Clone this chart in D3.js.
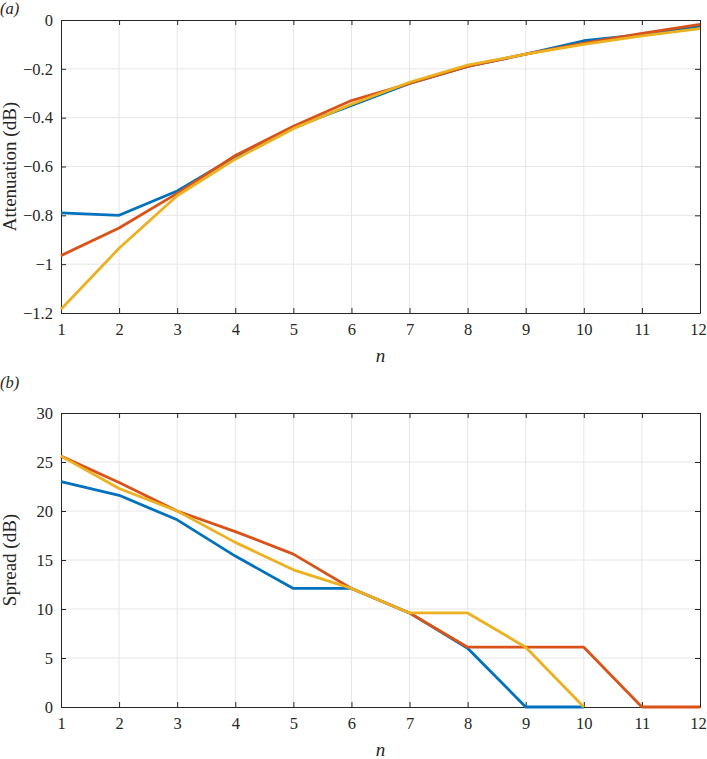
<!DOCTYPE html>
<html>
<head>
<meta charset="utf-8">
<script src="https://cdn.jsdelivr.net/npm/d3@7"></script>
<style>
  body { margin: 0; background: #fff; }
  svg text { font-family: "Liberation Serif", "Times New Roman", serif; fill: #262626; }
</style>
</head>
<body>
<div id="chart"></div>
<script>
// n values shared by both panels
const nValues = [1, 2, 3, 4, 5, 6, 7, 8, 9, 10, 11, 12];

// (a) attenuation in dB
const attenBlue   = [-0.79, -0.80, -0.70, -0.56, -0.44, -0.35, -0.26, -0.19, -0.14, -0.085, -0.06, -0.025];
const attenRed    = [-0.965, -0.852, -0.71, -0.555, -0.435, -0.33, -0.26, -0.19, -0.14, -0.095, -0.055, -0.018];
const attenYellow = [-1.185, -0.935, -0.72, -0.57, -0.445, -0.345, -0.255, -0.185, -0.14, -0.10, -0.065, -0.035];

// (b) spread in dB (null = no value)
const spreadBlue   = [23.0, 21.6, 19.1, 15.4, 12.1, 12.1, 9.6, 6.0, 0, 0, null, null];
const spreadRed    = [25.6, 22.9, 20.0, 17.9, 15.6, 12.1, 9.6, 6.1, 6.1, 6.1, 0, 0];
const spreadYellow = [25.6, 22.3, 20.0, 16.8, 14.0, 12.1, 9.6, 9.6, 6.1, 0, null, null];

const attenTicks = [0, -0.2, -0.4, -0.6, -0.8, -1, -1.2];
const spreadTicks = [0, 5, 10, 15, 20, 25, 30];

const colors = ["#0072BD", "#D95319", "#EDB120"];

const width = 707;
const height = 759;
const marginLeft = 61;
const marginRight = 7;
const tickFont = "16.5px";
const labelFont = "19px";

const svg = d3.select("#chart").append("svg")
    .attr("width", width)
    .attr("height", height)
    .attr("viewBox", [0, 0, width, height]);

function drawPanel(cfg) {
    const x = d3.scaleLinear()
        .domain([1, 12])
        .range([marginLeft, width - marginRight]);

    const y = d3.scaleLinear()
        .domain(cfg.domain)
        .range([cfg.bottom, cfg.top]);

    const g = svg.append("g");

    // Grid lines
    g.append("g")
        .selectAll("line")
        .data(nValues.slice(1, -1))
        .join("line")
        .attr("x1", d => x(d)).attr("x2", d => x(d))
        .attr("y1", cfg.top).attr("y2", cfg.bottom)
        .attr("stroke", "#e6e6e6").attr("stroke-width", 1);
    g.append("g")
        .selectAll("line")
        .data(cfg.ticks.slice(1, -1))
        .join("line")
        .attr("x1", x(1)).attr("x2", x(12))
        .attr("y1", d => y(d)).attr("y2", d => y(d))
        .attr("stroke", "#e6e6e6").attr("stroke-width", 1);

    // Axes with inward ticks (MATLAB style)
    g.append("g")
        .attr("transform", `translate(0,${cfg.bottom})`)
        .call(d3.axisBottom(x).tickValues(nValues).tickSizeInner(-5).tickSizeOuter(0).tickPadding(10))
        .call(a => a.selectAll(".tick:last-of-type text").attr("dx", -2));
    g.append("g")
        .attr("transform", `translate(0,${cfg.top})`)
        .call(d3.axisTop(x).tickValues(nValues).tickSizeInner(-5).tickSizeOuter(0).tickFormat(""));
    g.append("g")
        .attr("transform", `translate(${marginLeft},0)`)
        .call(d3.axisLeft(y).tickValues(cfg.ticks).tickSizeInner(-5).tickSizeOuter(0).tickPadding(8).tickFormat(d3.format("")));
    g.append("g")
        .attr("transform", `translate(${width - marginRight},0)`)
        .call(d3.axisRight(y).tickValues(cfg.ticks).tickSizeInner(-5).tickSizeOuter(0).tickFormat(""));

    g.selectAll(".domain, .tick line").attr("stroke", "#262626");
    g.selectAll(".tick text").style("font-size", tickFont);

    // Lines
    const line = d3.line()
        .defined(d => d[1] !== null)
        .x(d => x(d[0]))
        .y(d => y(d[1]));

    cfg.series.forEach((s, i) => {
        g.append("path")
            .datum(nValues.map((n, j) => [n, s[j]]))
            .attr("fill", "none")
            .attr("stroke", colors[i])
            .attr("stroke-width", 2.8)
            .attr("stroke-linejoin", "round")
            .attr("d", line);
    });

    // Labels
    g.append("text")
        .attr("x", (x(1) + x(12)) / 2)
        .attr("y", cfg.bottom + 49)
        .attr("text-anchor", "middle")
        .style("font-size", labelFont)
        .style("font-style", "italic")
        .text("n");

    g.append("text")
        .attr("transform", `translate(16,${(cfg.top + cfg.bottom) / 2}) rotate(-90)`)
        .attr("text-anchor", "middle")
        .style("font-size", labelFont)
        .text(cfg.yLabel);

    g.append("text")
        .attr("x", 0)
        .attr("y", cfg.tagY)
        .style("font-size", tickFont)
        .style("font-style", "italic")
        .text(cfg.tag);
}

drawPanel({
    top: 20, bottom: 313,
    domain: [-1.2, 0],
    ticks: attenTicks,
    series: [attenBlue, attenRed, attenYellow],
    yLabel: "Attenuation (dB)",
    tag: "(a)", tagY: 14
});

drawPanel({
    top: 413, bottom: 707,
    domain: [0, 30],
    ticks: spreadTicks,
    series: [spreadBlue, spreadRed, spreadYellow],
    yLabel: "Spread (dB)",
    tag: "(b)", tagY: 388
});
</script>
</body>
</html>
